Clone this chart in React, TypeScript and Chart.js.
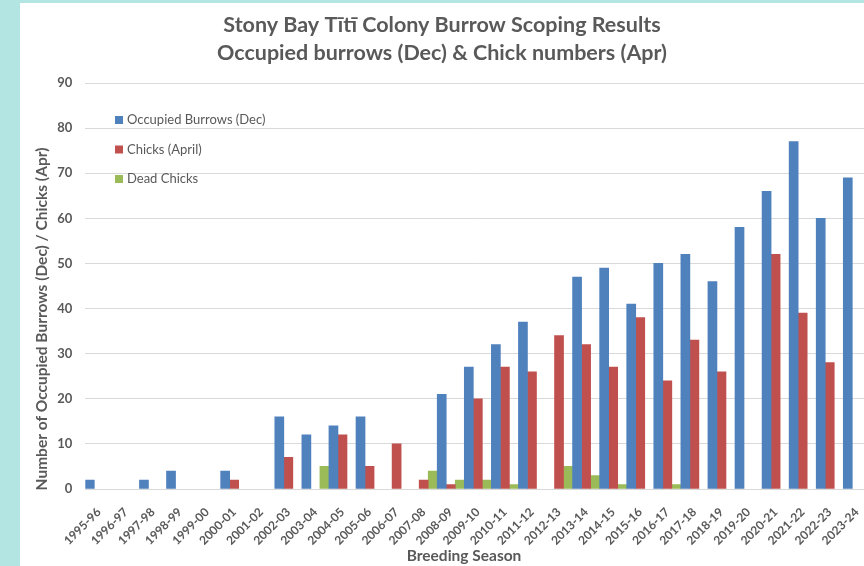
import React, { useEffect, useRef } from "react";
import { Chart, registerables } from "chart.js";

Chart.register(...registerables);

const seasons = [
  "1995-96", "1996-97", "1997-98", "1998-99", "1999-00", "2000-01", "2001-02",
  "2002-03", "2003-04", "2004-05", "2005-06", "2006-07", "2007-08", "2008-09",
  "2009-10", "2010-11", "2011-12", "2012-13", "2013-14", "2014-15", "2015-16",
  "2016-17", "2017-18", "2018-19", "2019-20", "2020-21", "2021-22", "2022-23",
  "2023-24",
];

// null = no bar shown for that season
const occupiedBurrows = [
  2, null, 2, 4, null, 4, null, 16, 12, 14, 16, null, null, 21, 27, 32, 37, null,
  47, 49, 41, 50, 52, 46, 58, 66, 77, 60, 69,
];

const chicksApril = [
  null, null, null, null, null, 2, null, 7, null, 12, 5, 10, 2, 1, 20, 27, 26, 34,
  32, 27, 38, 24, 33, 26, null, 52, 39, 28, null,
];

const deadChicks = [
  null, null, null, null, null, null, null, null, 5, null, null, null, 4, 2, 2, 1,
  null, 5, 3, 1, null, 1, null, null, null, null, null, null, null,
];

const seriesNames = ["Occupied Burrows (Dec)", "Chicks (April)", "Dead Chicks"];
const seriesColors = ["#4F81BD", "#C0504D", "#9BBB59"];

const titleLines = [
  "Stony Bay Tītī Colony Burrow Scoping Results",
  "Occupied burrows (Dec) & Chick numbers (Apr)",
];
const yAxisTitle = "Number of Occupied Burrows (Dec) / Chicks (Apr)";
const xAxisTitle = "Breeding Season";

const FONT = "Lato, 'Open Sans', sans-serif";
const TEXT = "#595959";

const overlayPlugin = {
  id: "overlay",
  afterDraw(chart: any) {
    const ctx = chart.ctx as CanvasRenderingContext2D;
    ctx.save();
    ctx.fillStyle = TEXT;
    ctx.textAlign = "center";
    ctx.textBaseline = "middle";
    ctx.font = `bold 21.5px ${FONT}`;
    ctx.fillText(titleLines[0], 422, 22);
    ctx.fillText(titleLines[1], 422, 50);

    // x axis title
    ctx.font = `bold 15.5px ${FONT}`;
    ctx.fillText(xAxisTitle, 444, 553);

    // y axis title
    ctx.save();
    ctx.translate(22, 316);
    ctx.rotate(-Math.PI / 2);
    ctx.font = `bold 15.5px ${FONT}`;
    ctx.fillText(yAxisTitle, 0, 0);
    ctx.restore();

    // legend
    const ds = chart.data.datasets;
    ctx.font = `13px ${FONT}`;
    ctx.textAlign = "left";
    for (let i = 0; i < ds.length; i++) {
      const cy = 117 + i * 29.5;
      ctx.fillStyle = ds[i].backgroundColor;
      ctx.fillRect(95, cy - 4, 8, 8);
      ctx.fillStyle = TEXT;
      ctx.fillText(ds[i].label, 107, cy);
    }
    ctx.restore();
  },
};

export default function App() {
  const canvasRef = useRef<HTMLCanvasElement | null>(null);

  useEffect(() => {
    if (!canvasRef.current) return;
    const chart = new Chart(canvasRef.current, {
      type: "bar",
      data: {
        labels: seasons,
        datasets: [
          { label: seriesNames[0], data: occupiedBurrows, backgroundColor: seriesColors[0] },
          { label: seriesNames[1], data: chicksApril, backgroundColor: seriesColors[1] },
          { label: seriesNames[2], data: deadChicks, backgroundColor: seriesColors[2] },
        ],
      },
      options: {
        responsive: false,
        animation: false,
        layout: { padding: { top: 80, left: 0, right: 0, bottom: 0 } },
        datasets: {
          bar: { categoryPercentage: 1.0, barPercentage: 1.0, borderWidth: 0 },
        },
        plugins: {
          legend: { display: false },
          title: { display: false },
          tooltip: { enabled: false },
        },
        scales: {
          x: {
            grid: { display: false },
            border: { display: true, color: "#d9d9d9", width: 1 },
            ticks: {
              autoSkip: false,
              minRotation: 45,
              maxRotation: 45,
              color: TEXT,
              font: { family: FONT, size: 12, weight: "bold" },
              padding: 8,
            },
            afterFit: (scale: any) => {
              scale.height = 77;
            },
          },
          y: {
            min: 0,
            max: 90,
            ticks: {
              stepSize: 10,
              color: TEXT,
              font: { family: FONT, size: 13, weight: "bold" },
              padding: 13,
            },
            grid: { color: "#d9d9d9", lineWidth: 1, drawTicks: false },
            border: { display: false },
            afterFit: (scale: any) => {
              scale.width = 65.3;
            },
          },
        },
      },
      plugins: [overlayPlugin],
    } as any);
    return () => chart.destroy();
  }, []);

  return (
    <div
      style={{
        position: "fixed",
        left: 0,
        top: 0,
        width: 864,
        height: 566,
        overflow: "hidden",
        background: "#b3e6e3",
      }}
    >
      <canvas
        ref={canvasRef}
        width={855}
        height={563}
        style={{ position: "absolute", left: 20, top: 3, background: "#ffffff", display: "block" }}
      />
    </div>
  );
}
